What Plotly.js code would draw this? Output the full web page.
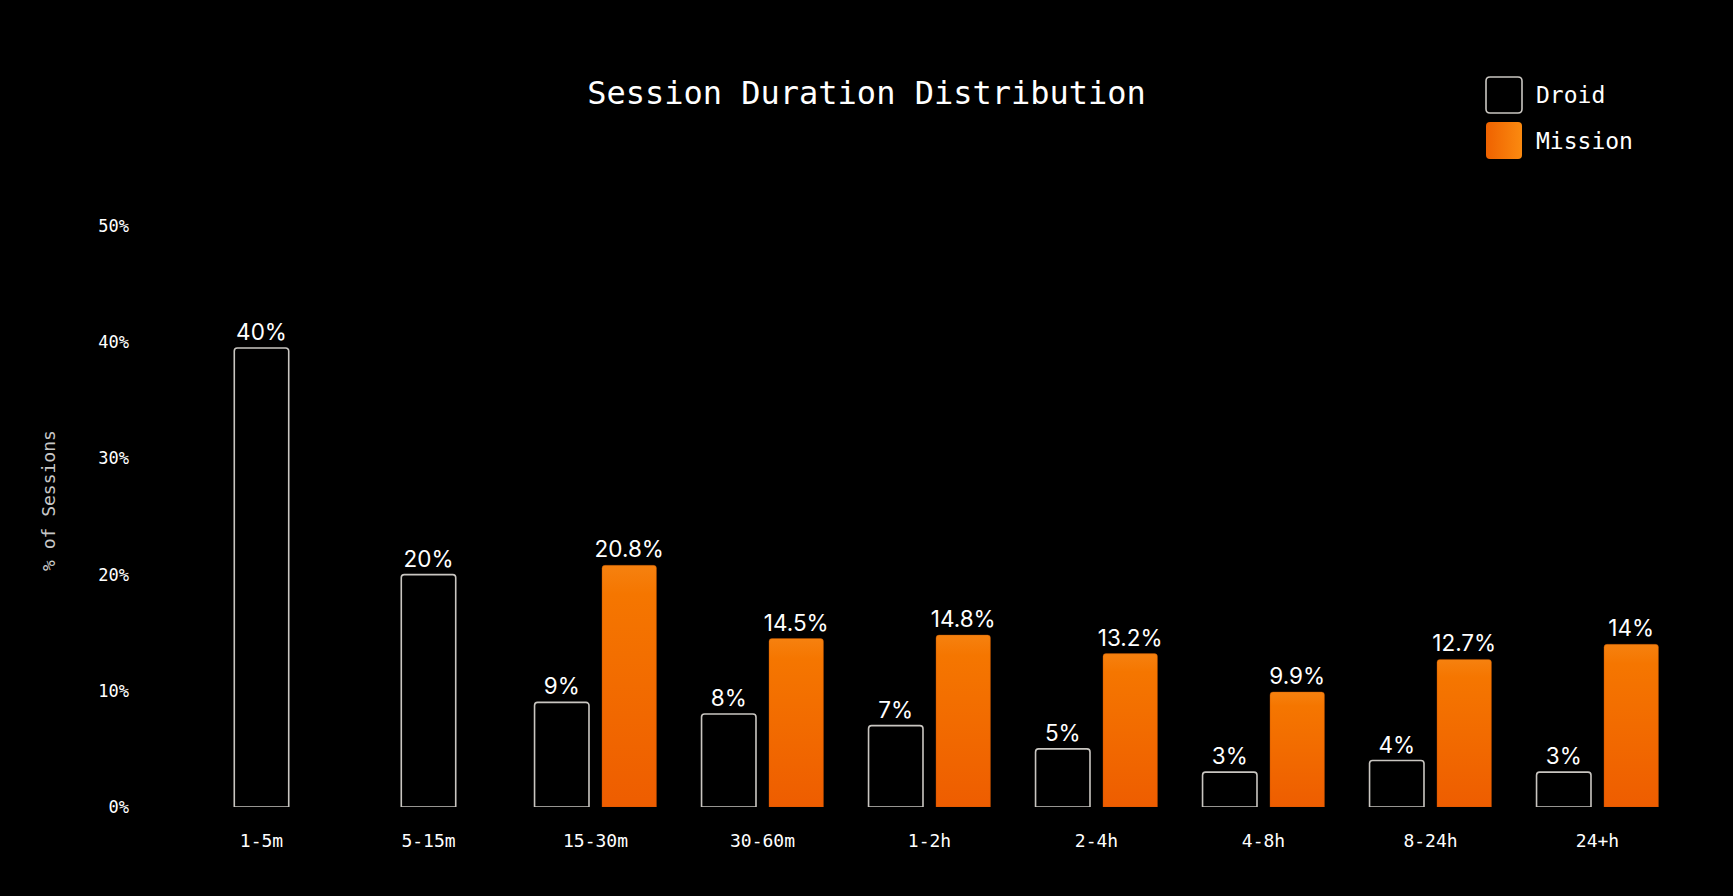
<!DOCTYPE html>
<html>
<head>
<meta charset="utf-8">
<script src="https://cdn.plot.ly/plotly-3.0.1.min.js"></script>
<style>
  html, body { margin: 0; background: #000; }
  #chart { width: 1733px; height: 896px; }
</style>
</head>
<body>
<div id="chart"></div>
<script>
// Session duration distribution, Droid vs Mission
const categories = ['1-5m', '5-15m', '15-30m', '30-60m', '1-2h', '2-4h', '4-8h', '8-24h', '24+h'];
const droidValues = [39.5, 20, 9, 8, 7, 5, 3, 4, 3];
const missionValues = [null, null, 20.8, 14.5, 14.8, 13.2, 9.9, 12.7, 14];
const yTickValues = [0, 10, 20, 30, 40, 50];
const seriesNames = ['Droid', 'Mission'];

const W = 1733, H = 896;
const M = { l: 178, r: 52, t: 226, b: 89 };
const MONO = '"DejaVu Sans Mono", "Liberation Mono", monospace';
const SANS = 'Inter, "Noto Sans", sans-serif';
const OUTLINE = '#c9c6c1';

// bar geometry in category units
const BAR_W = 0.326;
const GAP = 0.078;
// droid bars sit centred when there is no mission bar next to them
const droidOffset = missionValues.map(v => v == null ? -BAR_W / 2 : -(GAP / 2 + BAR_W));

// pixel -> paper helpers for the hand-drawn legend
const pw = W - M.l - M.r, ph = H - M.t - M.b;
const px2x = px => (px - M.l) / pw;
const px2y = py => (H - M.b - py) / ph;

function roundRectPath(x0, y0, x1, y1, r) {
    const P = (x, y) => `${px2x(x).toFixed(5)},${px2y(y).toFixed(5)}`;
    return `M${P(x0 + r, y0)} L${P(x1 - r, y0)} Q${P(x1, y0)} ${P(x1, y0 + r)} ` +
        `L${P(x1, y1 - r)} Q${P(x1, y1)} ${P(x1 - r, y1)} L${P(x0 + r, y1)} ` +
        `Q${P(x0, y1)} ${P(x0, y1 - r)} L${P(x0, y0 + r)} Q${P(x0, y0)} ${P(x0 + r, y0)} Z`;
}

const traces = [
    {
        type: 'bar',
        name: seriesNames[0],
        x: categories,
        y: droidValues,
        width: BAR_W,
        offset: droidOffset,
        marker: { color: '#000', line: { color: OUTLINE, width: 1.6 } },
        text: droidValues.map(v => Math.round(v) + '%'),
        textposition: 'outside',
        constraintext: 'none',
        cliponaxis: false,
        textfont: { family: SANS, size: 22.5, color: '#fff' },
        hoverinfo: 'skip',
        showlegend: false,
    },
    {
        type: 'bar',
        name: seriesNames[1],
        x: categories,
        y: missionValues,
        width: BAR_W,
        offset: GAP / 2,
        marker: { color: '#F36C05', line: { color: 'rgba(190,80,0,0.6)', width: 0.6 } },
        text: missionValues.map(v => v == null ? '' : v + '%'),
        textposition: 'outside',
        constraintext: 'none',
        cliponaxis: false,
        textfont: { family: SANS, size: 22.5, color: '#fff' },
        hoverinfo: 'skip',
        showlegend: false,
    },
];

const legendRows = [
    { y0: 77, y1: 113, fill: '#000', line: OUTLINE },
    { y0: 122, y1: 159, fill: '#F47208', line: null },
];

const layout = {
    width: W, height: H,
    paper_bgcolor: '#000',
    plot_bgcolor: '#000',
    margin: M,
    barmode: 'overlay',
    barcornerradius: 3,
    showlegend: false,
    title: {
        text: 'Session Duration Distribution',
        font: { family: MONO, size: 32, color: '#fff' },
        xref: 'container', x: 0.5, xanchor: 'center',
        yref: 'container', y: 1 - 93 / H, yanchor: 'middle',
    },
    xaxis: {
        type: 'category',
        range: [-0.5, categories.length - 0.5],
        showgrid: false, zeroline: false, showline: false, ticks: '',
        tickfont: { family: MONO, size: 18, color: '#fff' },
        ticklabelstandoff: 21,
    },
    yaxis: {
        range: [0, 50],
        tickvals: yTickValues,
        ticktext: yTickValues.map(v => v + '%'),
        showgrid: false, zeroline: false, showline: false, ticks: '',
        tickfont: { family: MONO, size: 17, color: '#fff' },
        ticklabelstandoff: 48,
        automargin: false,
    },
    shapes: legendRows.map(r => ({
        type: 'path', xref: 'paper', yref: 'paper',
        path: roundRectPath(1486, r.y0, 1522, r.y1, 4),
        fillcolor: r.fill,
        line: r.line ? { color: r.line, width: 1.6 } : { width: 0 },
    })),
    annotations: [
        ...seriesNames.map((name, i) => ({
            xref: 'paper', yref: 'paper',
            x: px2x(1534), y: px2y(i === 0 ? 95 : 141),
            xanchor: 'left', yanchor: 'middle',
            text: name, showarrow: false,
            font: { family: MONO, size: 23, color: '#fff' },
        })),
        {
            // y-axis title, sits a little above the plot centre in the reference
            xref: 'paper', yref: 'paper',
            x: px2x(48), y: px2y(501),
            xanchor: 'center', yanchor: 'middle',
            textangle: -90,
            text: '% of Sessions', showarrow: false,
            font: { family: MONO, size: 18, color: '#c8c8c8' },
        },
    ],
};

function addGradient(svg, id, horizontal, stops) {
    const NS = 'http://www.w3.org/2000/svg';
    let defs = svg.querySelector('defs');
    if (!defs) { defs = document.createElementNS(NS, 'defs'); svg.prepend(defs); }
    const g = document.createElementNS(NS, 'linearGradient');
    g.setAttribute('id', id);
    g.setAttribute('x1', '0'); g.setAttribute('y1', '0');
    g.setAttribute('x2', horizontal ? '1' : '0'); g.setAttribute('y2', horizontal ? '0' : '1');
    stops.forEach(([off, col]) => {
        const s = document.createElementNS(NS, 'stop');
        s.setAttribute('offset', off);
        s.setAttribute('stop-color', col);
        g.appendChild(s);
    });
    defs.appendChild(g);
}

Plotly.newPlot('chart', traces, layout, { staticPlot: true }).then(gd => {
    // Plotly bars have no gradient fill, so patch the SVG afterwards
    const svg = gd.querySelector('.main-svg');
    addGradient(svg, 'missionGrad', false, [['0', '#F6810F'], ['0.12', '#F57600'], ['1', '#EE5D00']]);
    addGradient(svg, 'legendGrad', true, [['0', '#EF6200'], ['1', '#FB8A10']]);
    const barTraces = gd.querySelectorAll('.barlayer .trace');
    if (barTraces[1]) barTraces[1].querySelectorAll('.point path').forEach(p => { p.style.fill = 'url(#missionGrad)'; });
    const shapePaths = gd.querySelectorAll('.layer-above .shapelayer path');
    if (shapePaths[1]) shapePaths[1].style.fill = 'url(#legendGrad)';
});
</script>
</body>
</html>
